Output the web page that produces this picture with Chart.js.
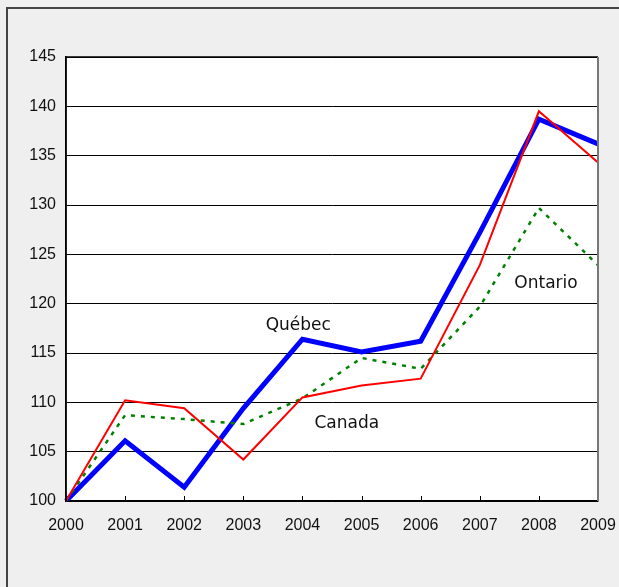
<!DOCTYPE html>
<html lang="en">
<head>
    <meta charset="UTF-8">
    <title>Index 2000 = 100</title>
    <script src="https://cdn.jsdelivr.net/npm/chart.js"></script>
    <style>
        html, body { margin: 0; padding: 0; background: #efefef; overflow: hidden; }
        canvas { display: block; }
    </style>
</head>
<body>
    <canvas id="chart" width="619" height="587"></canvas>

    <script>
        // years on the x axis
        const years = ['2000', '2001', '2002', '2003', '2004', '2005', '2006', '2007', '2008', '2009'];

        // index values (2000 = 100)
        const quebec  = [100, 106.1, 101.4, 109.4, 116.4, 115.1, 116.2, 127.2, 138.7, 136.2];
        const canada  = [100, 110.2, 109.4, 104.2, 110.5, 111.7, 112.4, 123.9, 139.5, 134.3];
        const ontario = [100, 108.7, 108.3, 107.8, 110.4, 114.5, 113.4, 119.7, 129.7, 123.9];

        const yMin = 100, yMax = 145, yStep = 5;

        // series labels written inside the plot: [text, x (year index), y (value)]
        const seriesLabels = [
            ['Québec', 3.93, 117.8],
            ['Canada', 4.75, 107.8],
            ['Ontario', 8.12, 122.0]
        ];

        // page frame, white plot background
        const backdrop = {
            id: 'backdrop',
            beforeDraw(chart) {
                const ctx = chart.ctx, a = chart.chartArea;
                ctx.save();
                ctx.fillStyle = '#efefef';
                ctx.fillRect(0, 0, chart.width, chart.height);
                ctx.strokeStyle = '#444';
                ctx.lineWidth = 2;
                ctx.beginPath();
                ctx.moveTo(7, chart.height);
                ctx.lineTo(7, 8);
                ctx.lineTo(chart.width, 8);
                ctx.stroke();
                ctx.fillStyle = '#fff';
                ctx.fillRect(a.left, a.top, a.right - a.left, a.bottom - a.top);
                ctx.restore();
            }
        };

        // plot border, inward tick marks and in-plot labels
        const extras = {
            id: 'extras',
            afterDraw(chart) {
                const ctx = chart.ctx, a = chart.chartArea;
                const x = chart.scales.x, y = chart.scales.y;
                ctx.save();
                ctx.strokeStyle = '#000';
                ctx.lineWidth = 1;
                x.ticks.forEach((_, i) => {
                    const px = Math.round(x.getPixelForTick(i)) + 0.5;
                    ctx.beginPath();
                    ctx.moveTo(px, a.bottom);
                    ctx.lineTo(px, a.bottom - 5);
                    ctx.stroke();
                });
                ctx.lineWidth = 1.5;
                ctx.beginPath();
                ctx.moveTo(a.left, a.bottom);
                ctx.lineTo(a.left, a.top);
                ctx.lineTo(a.right, a.top);
                ctx.stroke();
                ctx.strokeStyle = '#777';
                ctx.lineWidth = 2;
                ctx.beginPath();
                ctx.moveTo(a.right, a.top);
                ctx.lineTo(a.right, a.bottom);
                ctx.stroke();

                ctx.fillStyle = '#111';
                ctx.font = '17px "DejaVu Sans"';
                ctx.textAlign = 'center';
                ctx.textBaseline = 'middle';
                seriesLabels.forEach(([t, xi, v]) => {
                    ctx.fillText(t, x.getPixelForValue(xi), y.getPixelForValue(v));
                });
                ctx.restore();
            }
        };

        new Chart(document.getElementById('chart'), {
            type: 'line',
            data: {
                labels: years,
                datasets: [
                    { label: 'Québec', data: quebec, borderColor: '#0000ff', borderWidth: 5, order: 2 },
                    { label: 'Ontario', data: ontario, borderColor: '#008000', borderWidth: 2.5, borderDash: [4, 6], order: 1 },
                    { label: 'Canada', data: canada, borderColor: '#ff0000', borderWidth: 2, order: 0 }
                ]
            },
            options: {
                responsive: false,
                animation: false,
                layout: { padding: { top: 57, right: 21, left: 0, bottom: 0 } },
                elements: {
                    point: { radius: 0 },
                    line: { tension: 0, borderJoinStyle: 'miter', fill: false }
                },
                plugins: {
                    legend: { display: false },
                    tooltip: { enabled: false }
                },
                scales: {
                    x: {
                        offset: false,
                        grid: { display: false, drawTicks: false },
                        border: { display: true, color: '#000', width: 1.5 },
                        ticks: {
                            color: '#111', padding: 15, maxRotation: 0, autoSkip: false,
                            font: { family: 'Liberation Sans', size: 16 }
                        },
                        afterFit(scale) {
                            scale.height = 86;
                            scale.paddingLeft = 0;
                            scale.paddingRight = 0;
                        }
                    },
                    y: {
                        min: yMin,
                        max: yMax,
                        grid: { color: '#000', lineWidth: 1, drawTicks: false },
                        border: { display: true, color: '#000', width: 1.5 },
                        ticks: {
                            stepSize: yStep, color: '#111', padding: 10,
                            font: { family: 'Liberation Sans', size: 16 }
                        },
                        afterFit(scale) {
                            scale.width = 66;
                            scale.paddingTop = 0;
                            scale.paddingBottom = 0;
                        }
                    }
                }
            },
            plugins: [backdrop, extras]
        });
    </script>
</body>
</html>
